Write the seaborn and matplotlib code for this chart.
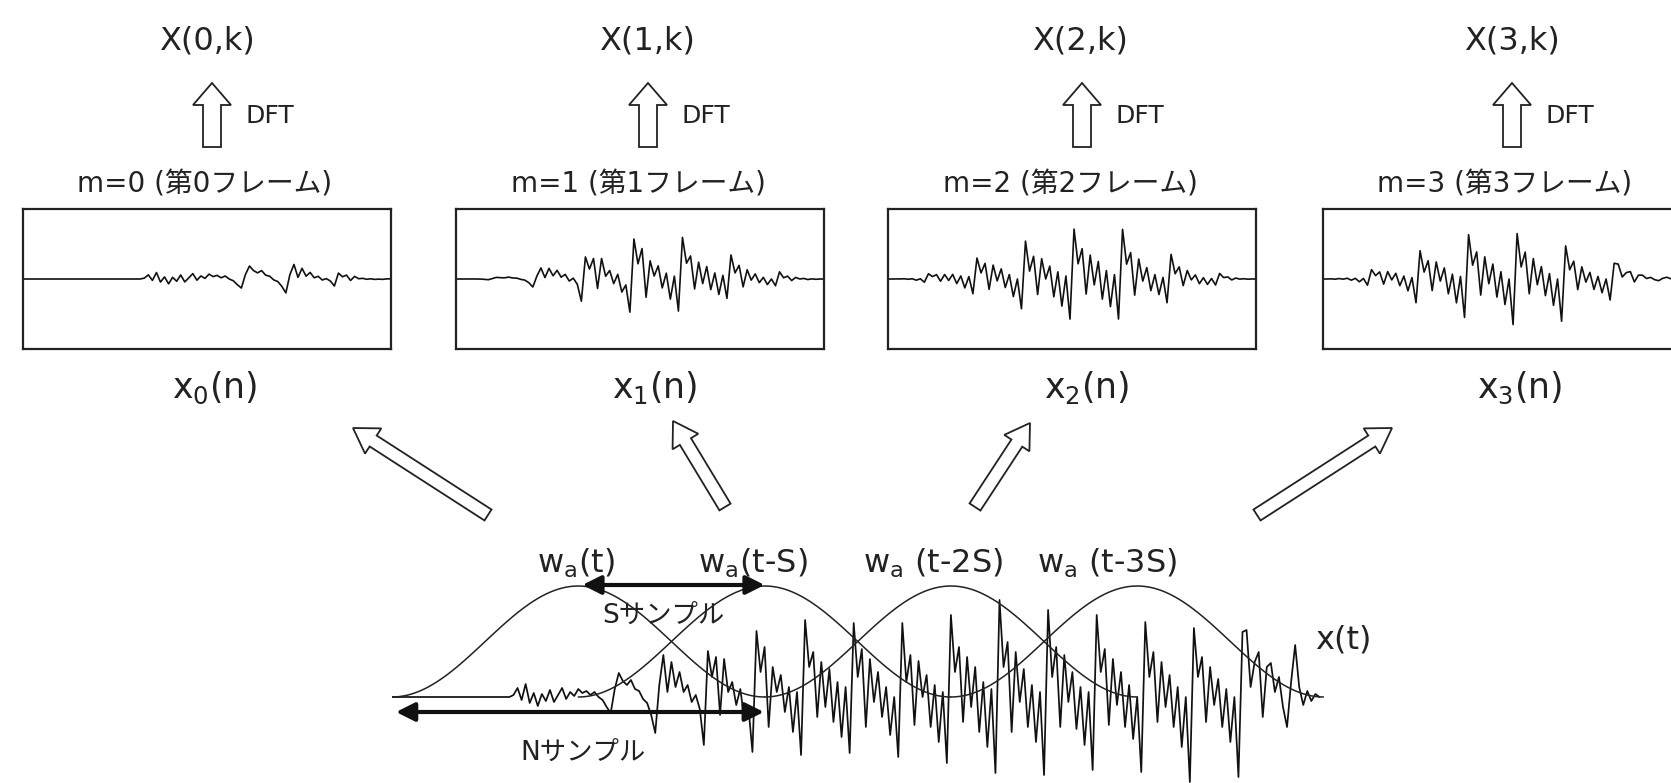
import numpy as np
import matplotlib
matplotlib.use("Agg")
import matplotlib.pyplot as plt
from matplotlib.patches import FancyArrow
import seaborn as sns

# 入力信号 x(t)（上向きを正、ピクセル相当の振幅）
signal = [
    0, 0, 0, 0, 0, 0, 0, 0, 0, 0,
    0, 0, 0, 0, 0, 0, 0, 0, 0, 0,
    0, 0, 0, 0, 0, 0, 0, 0, 0, 0,
    2, 9, -3, 13, -6, 4, -9, 3, -4, 7,
    -5, 2, 9, -2, 5, 1, 8, 4, 6, 2,
    5, 0, -3,
    -10, -16, 8, 24, 16, 12, 17, 8, 6, -2,
    -6, -18, -36, 12, 42, 5, 35, 10, 25, 5,
    12, -5, 2, -12, -48, 46, 20, 40, -18, 38,
    5, 15, -8, 8, -22, -10, -55, 66, 25, 50,
    -30, 30, 5, 22, -15, 10, -35, 5, -58, 77,
    30, 45, -20, 35, -10, 28, -25, 15, -40, 10,
    -56, 74, 20, 48, -30, 38, -5, 25, -20, 10,
    -38, 0, -60, 74, 15, 42, -28, 36, 0, 22,
    -30, 12, -45, 5, -66, 82, 25, 50, -25, 40,
    -10, 30, -35, 15, -50, 8, -76, 97, 30, 55,
    -35, 45, -5, 28, -30, 12, -45, 5, -78, 87,
    20, 50, -30, 42, -5, 25, -32, 10, -48, 5,
    -73, 82, 25, 48, -28, 38, -8, 25, -30, 12,
    -42, 0, -75, 75, 20, 45, -25, 35, -10, 22,
    -30, 10, -50, 0, -85, 69, 20, 40, -25, 30,
    -8, 18, -30, 8, -45, 0, -80, 65, 67, 10,
    35, 45, -20, 30, 34, 5, 20, -10, -30, 15,
    52, 10, -8, 6, -4, 3, 0,
]

N = 92          # フレーム長（サンプル）
S = 46          # シフト幅（サンプル）
win_height = 111
frames = [0, 1, 2, 3]
spec_labels = ["X(0,k)", "X(1,k)", "X(2,k)", "X(3,k)"]
frame_titles = ["m=0 (第0フレーム)", "m=1 (第1フレーム)", "m=2 (第2フレーム)", "m=3 (第3フレーム)"]
frame_labels = ["x$_0$(n)", "x$_1$(n)", "x$_2$(n)", "x$_3$(n)"]
win_labels = ["w$_a$(t)", "w$_a$(t-S)", "w$_a$ (t-2S)", "w$_a$ (t-3S)"]

sns.set_theme(style="white")
plt.rcParams["font.family"] = ["DejaVu Sans", "Noto Sans CJK JP"]
plt.rcParams["mathtext.default"] = "regular"

W, H = 1671, 783
fig = plt.figure(figsize=(W / 100, H / 100), dpi=100)
fig.patch.set_facecolor("white")

sig = np.array(signal, dtype=float)
t = np.arange(len(sig))
hann = np.hanning(N + 1)

# 下段：全体の信号と窓関数
ax = fig.add_axes([392 / W, 0, 931.5 / W, 211 / H])
ax.patch.set_alpha(0)
sns.lineplot(x=t, y=sig, ax=ax, color="#111111", lw=1.25)
for m in frames:
    tw = m * S + np.arange(N + 1)
    sns.lineplot(x=tw, y=win_height * hann, ax=ax, color="#222222", lw=1.1)
ax.set_xlim(0, 230)
ax.set_ylim(-86, 125)
ax.axis("off")

ax.annotate("", xy=(0.3, -15), xytext=(92.5, -15),
            arrowprops=dict(arrowstyle="<|-|>", color="#111111", lw=3, mutation_scale=28))
ax.annotate("", xy=(46.3, 112), xytext=(92.7, 112),
            arrowprops=dict(arrowstyle="<|-|>", color="#111111", lw=3, mutation_scale=28))

# 上段：各フレーム
box_left = [23, 456, 888, 1323]
for m in frames:
    fx = fig.add_axes([box_left[m] / W, 1 - 349 / H, 368 / W, 140 / H])
    seg = sig[m * S: m * S + N] * hann[:N]
    sns.lineplot(x=np.arange(N), y=seg, ax=fx, color="#111111", lw=1.2)
    fx.set_xlim(0, N - 1)
    fx.set_ylim(-115, 115)
    fx.set_xticks([])
    fx.set_yticks([])
    for sp in fx.spines.values():
        sp.set_visible(True)
        sp.set_color("#222222")
        sp.set_linewidth(1.6)

# 注釈レイヤ（ピクセル座標）
ov = fig.add_axes([0, 0, 1, 1])
ov.set_xlim(0, W)
ov.set_ylim(H, 0)
ov.axis("off")
ov.patch.set_alpha(0)

title_x = [207, 647, 1080, 1512]
arrow_x = [212, 648, 1082, 1512]
mline_x = [205, 638, 1070, 1505]
xlab_x = [215, 655, 1087, 1520]
for m in frames:
    ov.text(title_x[m], 41, spec_labels[m], fontsize=23, ha="center", va="center", color="#222222")
    ov.add_patch(FancyArrow(arrow_x[m], 147, 0, -64, width=18, head_width=38, head_length=22,
                            length_includes_head=True, fc="white", ec="#222222", lw=1.3))
    ov.text(arrow_x[m] + 34, 116, "DFT", fontsize=18, ha="left", va="center", color="#222222")
    ov.text(mline_x[m], 184, frame_titles[m], fontsize=20, ha="center", va="center", color="#222222")
    ov.text(xlab_x[m], 388, frame_labels[m], fontsize=25, ha="center", va="center", color="#222222")

# 斜めの矢印
diag = [((488, 515), (353, 428)), ((725, 507), (673, 421)),
        ((975, 507), (1030, 423)), ((1257, 515), (1392, 428))]
for (x0, y0), (x1, y1) in diag:
    ov.add_patch(FancyArrow(x0, y0, x1 - x0, y1 - y0, width=13, head_width=30, head_length=24,
                            length_includes_head=True, fc="white", ec="#222222", lw=1.3))

win_x = [537, 698, 863, 1037]
for m in frames:
    ov.text(win_x[m], 563, win_labels[m], fontsize=23, ha="left", va="center", color="#222222")

ov.text(1315, 640, "x(t)", fontsize=23, ha="left", va="center", color="#222222")
ov.text(663, 616, "Sサンプル", fontsize=19, ha="center", va="center", color="#222222")
ov.text(583, 753, "Nサンプル", fontsize=19, ha="center", va="center", color="#222222")

fig.savefig("out.png", dpi=100, facecolor="white")
